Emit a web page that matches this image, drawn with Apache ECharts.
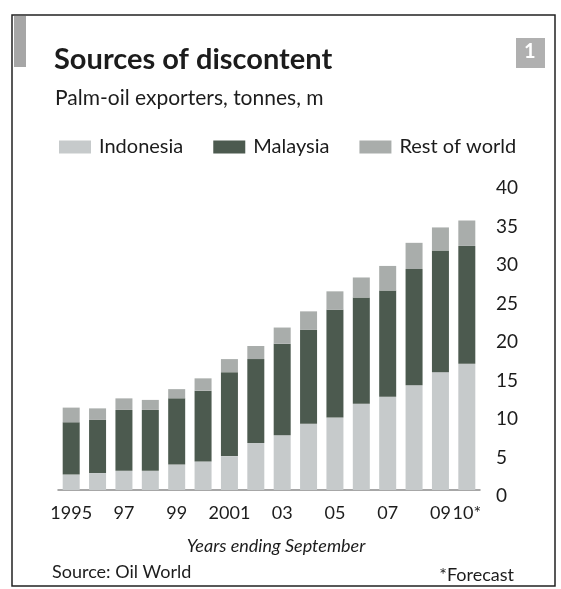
<!DOCTYPE html>
<html>
<head>
<meta charset="utf-8">
<script src="https://cdn.jsdelivr.net/npm/echarts@6/dist/echarts.min.js"></script>
<style>
html,body{margin:0;padding:0;background:#fff;}
#chart{width:561px;height:589px;}
</style>
</head>
<body>
<div id="chart"></div>
<script>
var years = ['1995','1996','1997','1998','1999','2000','2001','2002','2003','2004','2005','2006','2007','2008','2009','2010'];
var tickLabels = ['1995','','97','','99','','2001','','03','','05','','07','','09','10*'];
var indonesia = [2.0, 2.2, 2.5, 2.5, 3.3, 3.7, 4.4, 6.1, 7.1, 8.6, 9.4, 11.2, 12.1, 13.6, 15.3, 16.4];
var malaysia  = [6.8, 6.9, 7.9, 7.9, 8.6, 9.2, 10.9, 10.9, 11.9, 12.2, 14.0, 13.8, 13.8, 15.1, 15.8, 15.3];
var restOfWorld = [1.9, 1.5, 1.5, 1.3, 1.2, 1.6, 1.7, 1.7, 2.1, 2.4, 2.4, 2.6, 3.2, 3.4, 3.0, 3.3];
var seriesNames = ['Indonesia','Malaysia','Rest of world'];

var FONT = 'Lato, "Open Sans", sans-serif';
var TXT = '#1c1c1c';
var colors = ['#c6cacb', '#4c5a4f', '#a9adab'];

var chart = echarts.init(document.getElementById('chart'), null, {renderer:'canvas'});
var option = {
  backgroundColor: '#ffffff',
  animation: false,
  title: [
    {text: 'Sources of discontent', left: 49, top: 40,
     textStyle: {fontFamily: FONT, fontWeight: 'bold', fontSize: 29, color: TXT}},
    {text: 'Palm-oil exporters, tonnes, m', left: 50, top: 83,
     textStyle: {fontFamily: FONT, fontWeight: 'normal', fontSize: 21, color: TXT}},
    {text: 'Years ending September', left: 271, textAlign: 'center', top: 532,
     textStyle: {fontFamily: FONT, fontStyle: 'italic', fontWeight: 'normal', fontSize: 18, color: TXT}},
    {text: 'Source: Oil World', left: 47, top: 558,
     textStyle: {fontFamily: FONT, fontWeight: 'normal', fontSize: 18, color: TXT}},
    {text: '*Forecast', right: 42, top: 561,
     textStyle: {fontFamily: FONT, fontWeight: 'normal', fontSize: 18, color: TXT}}
  ],
  legend: {
    data: seriesNames,
    left: 54, top: 132,
    icon: 'rect', itemWidth: 32, itemHeight: 13, itemGap: 30,
    textStyle: {fontFamily: FONT, fontSize: 20, color: TXT, padding: [0,0,0,3]},
    selectedMode: false
  },
  grid: {left: 58, right: 81, top: 182, bottom: 99, containLabel: false},
  xAxis: {
    type: 'category',
    data: years,
    axisTick: {show: false},
    axisLine: {show: true, lineStyle: {color: '#8a8a8a', width: 1.5}},
    axisLabel: {
      interval: 0, margin: 14,
      fontFamily: FONT, fontSize: 18, color: TXT,
      formatter: function (v, i) { return tickLabels[i]; }
    }
  },
  yAxis: {
    type: 'value', position: 'right',
    min: 0, max: 40, interval: 5,
    splitLine: {show: false}, axisTick: {show: false}, axisLine: {show: false},
    axisLabel: {margin: 16, align: 'left', verticalAlign: 'top', lineHeight: 12,
      fontFamily: FONT, fontSize: 19, color: TXT}
  },
  series: [
    {name: seriesNames[0], type: 'bar', stack: 'total', data: indonesia, barWidth: 17, itemStyle: {color: colors[0]}},
    {name: seriesNames[1], type: 'bar', stack: 'total', data: malaysia, barWidth: 17, itemStyle: {color: colors[1]}},
    {name: seriesNames[2], type: 'bar', stack: 'total', data: restOfWorld, barWidth: 17, itemStyle: {color: colors[2]}}
  ],
  graphic: [
    {type: 'rect', shape: {x: 12, y: 15, width: 543, height: 571}, style: {fill: 'none', stroke: '#222', lineWidth: 1.5}, silent: true},
    {type: 'rect', shape: {x: 14, y: 16, width: 12, height: 51}, style: {fill: '#a6a6a6'}, silent: true},
    {type: 'rect', shape: {x: 516, y: 38, width: 29, height: 30}, style: {fill: '#b0b0b0'}, silent: true},
    {type: 'text', left: 524, top: 42, style: {text: '1', fill: '#ffffff', font: 'bold 20px ' + FONT}, silent: true}
  ]
};
chart.setOption(option);
</script>
</body>
</html>
